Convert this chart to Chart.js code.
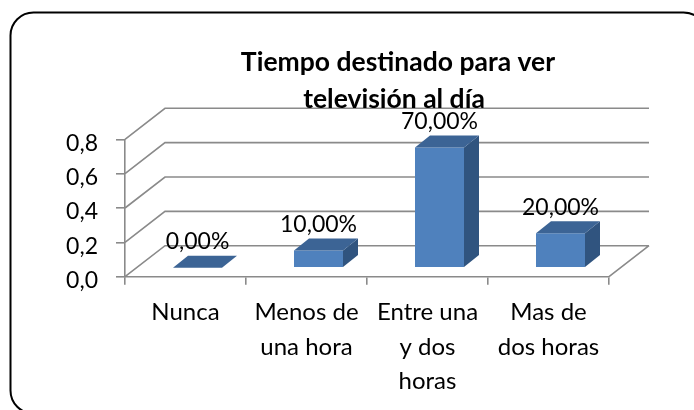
<!DOCTYPE html>
<html><head><meta charset="utf-8">
<script src="https://cdn.jsdelivr.net/npm/chart.js@4.4.1/dist/chart.umd.min.js"></script>
<style>html,body{margin:0;padding:0;background:#fff;overflow:hidden}canvas{display:block}</style>
</head><body>
<canvas id="c" width="694" height="410"></canvas>
<script>
// ---- data ----
const categories = [["Nunca"], ["Menos de", "una hora"], ["Entre una", "y dos", "horas"], ["Mas de", "dos horas"]];
const values = [0.00, 0.10, 0.70, 0.20];
const yMin = 0, yMax = 0.8, yStep = 0.2;
const titleLines = ["Tiempo destinado para ver", "televisión al día"];

// ---- style ----
const FONT = "Lato, 'Open Sans', sans-serif";
const GRID = '#8A8A8A';
const FRONT = '#4F81BD', TOP = '#3C6495', SIDE = '#30547F';
const WALL = { dx: 40, dy: -31 };
const BAR_FRONT = { dx: 12, dy: -9 };
const BAR_DEPTH = { dx: 15, dy: -12 };

const fmtTick = v => v.toFixed(1).replace('.', ',');
const fmtPct = v => (v * 100).toFixed(2).replace('.', ',') + '%';

const threeD = {
  id: 'threeD',
  beforeDatasetsDraw(chart) {
    const { ctx, chartArea: a, scales: { y } } = chart;
    ctx.save();
    ctx.strokeStyle = GRID; ctx.lineWidth = 1.6;
    ctx.beginPath();
    y.ticks.forEach(t => {
      const py = y.getPixelForValue(t.value);
      ctx.moveTo(a.left, py);
      ctx.lineTo(a.left + WALL.dx, py + WALL.dy);
      ctx.lineTo(a.right + WALL.dx, py + WALL.dy);
    });
    const pb = y.getPixelForValue(yMin);
    ctx.moveTo(a.right, pb); ctx.lineTo(a.right + WALL.dx, pb + WALL.dy);
    ctx.stroke();
    ctx.restore();
    ctx.save();
    ctx.translate(BAR_FRONT.dx, BAR_FRONT.dy);
  },
  afterDatasetsDraw(chart) {
    const ctx = chart.ctx;
    const meta = chart.getDatasetMeta(0);
    const d = BAR_DEPTH;
    meta.data.forEach((el, i) => {
      const { x, y, base, width } = el.getProps(['x', 'y', 'base', 'width'], true);
      const l = x - width / 2, r = x + width / 2;
      if (base - y > 0.5) {
        ctx.fillStyle = SIDE;
        ctx.beginPath();
        ctx.moveTo(r, y); ctx.lineTo(r + d.dx, y + d.dy); ctx.lineTo(r + d.dx, base + d.dy); ctx.lineTo(r, base);
        ctx.closePath(); ctx.fill();
      }
      ctx.fillStyle = TOP;
      ctx.beginPath();
      ctx.moveTo(l, y); ctx.lineTo(l + d.dx, y + d.dy); ctx.lineTo(r + d.dx, y + d.dy); ctx.lineTo(r, y);
      ctx.closePath(); ctx.fill();
      ctx.fillStyle = '#000';
      ctx.font = '23px ' + FONT;
      ctx.textAlign = 'center'; ctx.textBaseline = 'middle';
      ctx.fillText(fmtPct(values[i]), x, y - 26);
    });
    ctx.restore();
  },
  afterDraw(chart) {
    const ctx = chart.ctx;
    ctx.save();
    ctx.fillStyle = '#000';
    ctx.font = 'bold 26.5px ' + FONT;
    ctx.textAlign = 'center'; ctx.textBaseline = 'middle';
    ctx.fillText(titleLines[0], 398, 62);
    ctx.fillText(titleLines[1], 394, 99);
    // outer rounded frame
    ctx.strokeStyle = '#000'; ctx.lineWidth = 2;
    ctx.beginPath();
    ctx.roundRect(10.5, 12.5, 696, 401, 23);
    ctx.stroke();
    ctx.restore();
  }
};

new Chart(document.getElementById('c'), {
  type: 'bar',
  data: {
    labels: categories,
    datasets: [{
      data: values,
      backgroundColor: FRONT,
      borderWidth: 0,
      barPercentage: 0.405,
      categoryPercentage: 1.0,
      clip: false
    }]
  },
  options: {
    responsive: false,
    animation: false,
    events: [],
    layout: { padding: { left: 0, right: 85, top: 139.3, bottom: 0 } },
    plugins: { legend: { display: false }, tooltip: { enabled: false }, title: { display: false } },
    scales: {
      x: {
        grid: { offset: true, drawOnChartArea: false, drawTicks: true, tickLength: 8, color: GRID, lineWidth: 1.6 },
        border: { display: true, color: GRID, width: 1.6 },
        ticks: { color: '#000', font: { family: FONT, size: 24, lineHeight: 1.42 }, padding: 11, maxRotation: 0, autoSkip: false },
        afterFit(s) { s.height = 410 - 276.7; }
      },
      y: {
        min: yMin, max: yMax,
        grid: { drawOnChartArea: false, drawTicks: true, tickLength: 9, color: GRID, lineWidth: 1.6 },
        border: { display: true, color: GRID, width: 1.6 },
        ticks: { stepSize: yStep, color: '#000', font: { family: FONT, size: 23 }, padding: 18, labelOffset: 4, callback: v => fmtTick(v) },
        afterFit(s) { s.width = 125; }
      }
    }
  },
  plugins: [threeD]
});
</script>
</body></html>
